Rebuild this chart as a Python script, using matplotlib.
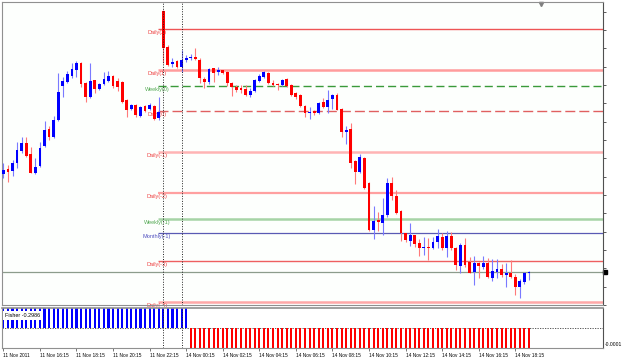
import matplotlib
matplotlib.use('Agg')
import matplotlib.pyplot as plt
import numpy as np

# 15 min candles, 11 Nov 2011 14:15 .. 14 Nov 2011 19:00
opens = [1.3628, 1.3633, 1.3631, 1.3639, 1.3651, 1.3659, 1.3648, 1.3629, 1.3636, 1.3656,
         1.3673, 1.3665, 1.3682, 1.3716, 1.3720, 1.3726, 1.3732, 1.3739, 1.3719, 1.3705,
         1.3722, 1.3713, 1.3718, 1.3721, 1.3726, 1.3721, 1.3720, 1.3702, 1.3693, 1.3697,
         1.3686, 1.3696, 1.3693, 1.3696, 1.3684, 1.3791, 1.3755, 1.3738, 1.3741, 1.3735,
         1.3742, 1.3744, 1.3745, 1.3742, 1.3723, 1.3720, 1.3734, 1.3730, 1.3732, 1.3730,
         1.3719, 1.3715, 1.3714, 1.3713, 1.3707, 1.3711, 1.3721, 1.3725, 1.3729, 1.3719,
         1.3718, 1.3717, 1.3723, 1.3717, 1.3709, 1.3707, 1.3696, 1.3689, 1.3691, 1.3689,
         1.3700, 1.3695, 1.3703, 1.3707, 1.3693, 1.3670, 1.3673, 1.3641, 1.3630, 1.3644,
         1.3619, 1.3572, 1.3582, 1.3579, 1.3587, 1.3619, 1.3606, 1.3591, 1.3569, 1.3561,
         1.3567, 1.3559, 1.3554, 1.3555, 1.3554, 1.3560, 1.3565, 1.3554, 1.3566, 1.3554,
         1.3536, 1.3557, 1.3540, 1.3530, 1.3539, 1.3535, 1.3539, 1.3524, 1.3530, 1.3533,
         1.3527, 1.3529, 1.3525, 1.3515, 1.3520, 1.3529]
highs = [1.3639, 1.3637, 1.3642, 1.3660, 1.3665, 1.3665, 1.3655, 1.3644, 1.3660, 1.3681,
         1.3676, 1.3686, 1.3729, 1.3725, 1.3731, 1.3739, 1.3741, 1.3740, 1.3720, 1.3739,
         1.3722, 1.3719, 1.3730, 1.3731, 1.3727, 1.3724, 1.3721, 1.3703, 1.3698, 1.3698,
         1.3696, 1.3697, 1.3699, 1.3697, 1.3705, 1.3792, 1.3757, 1.3744, 1.3742, 1.3752,
         1.3747, 1.3748, 1.3754, 1.3744, 1.3725, 1.3734, 1.3734, 1.3735, 1.3732, 1.3731,
         1.3720, 1.3717, 1.3717, 1.3717, 1.3714, 1.3723, 1.3728, 1.3731, 1.3730, 1.3722,
         1.3719, 1.3723, 1.3724, 1.3718, 1.3710, 1.3708, 1.3697, 1.3695, 1.3692, 1.3700,
         1.3704, 1.3712, 1.3708, 1.3709, 1.3694, 1.3676, 1.3679, 1.3642, 1.3648, 1.3645,
         1.3620, 1.3596, 1.3590, 1.3604, 1.3624, 1.3625, 1.3612, 1.3592, 1.3569, 1.3579,
         1.3567, 1.3563, 1.3565, 1.3564, 1.3565, 1.3573, 1.3569, 1.3571, 1.3570, 1.3555,
         1.3559, 1.3564, 1.3545, 1.3546, 1.3540, 1.3546, 1.3544, 1.3543, 1.3543, 1.3538,
         1.3539, 1.3542, 1.3528, 1.3523, 1.3530, 1.3531]
lows = [1.3624, 1.3620, 1.3626, 1.3634, 1.3649, 1.3645, 1.3629, 1.3628, 1.3635, 1.3655,
        1.3662, 1.3664, 1.3681, 1.3705, 1.3719, 1.3724, 1.3725, 1.3715, 1.3700, 1.3704,
        1.3709, 1.3712, 1.3717, 1.3720, 1.3714, 1.3711, 1.3699, 1.3685, 1.3692, 1.3685,
        1.3685, 1.3690, 1.3692, 1.3682, 1.3682, 1.3739, 1.3736, 1.3735, 1.3734, 1.3730,
        1.3740, 1.3742, 1.3742, 1.3719, 1.3714, 1.3718, 1.3720, 1.3727, 1.3728, 1.3716,
        1.3706, 1.3710, 1.3709, 1.3706, 1.3705, 1.3710, 1.3720, 1.3724, 1.3718, 1.3716,
        1.3712, 1.3716, 1.3715, 1.3706, 1.3703, 1.3695, 1.3685, 1.3683, 1.3687, 1.3688,
        1.3694, 1.3689, 1.3693, 1.3692, 1.3665, 1.3658, 1.3634, 1.3618, 1.3629, 1.3613,
        1.3571, 1.3563, 1.3571, 1.3567, 1.3585, 1.3602, 1.3588, 1.3561, 1.3560, 1.3556,
        1.3555, 1.3546, 1.3547, 1.3542, 1.3553, 1.3554, 1.3552, 1.3545, 1.3552, 1.3532,
        1.3529, 1.3535, 1.3529, 1.3517, 1.3524, 1.3533, 1.3524, 1.3521, 1.3524, 1.3525,
        1.3515, 1.3524, 1.3507, 1.3504, 1.3518, 1.3522]
closes = [1.3632, 1.3630, 1.3639, 1.3652, 1.3659, 1.3646, 1.3629, 1.3635, 1.3654, 1.3672,
          1.3665, 1.3682, 1.3710, 1.3721, 1.3728, 1.3733, 1.3739, 1.3718, 1.3705, 1.3721,
          1.3713, 1.3718, 1.3723, 1.3726, 1.3716, 1.3715, 1.3700, 1.3692, 1.3697, 1.3687,
          1.3695, 1.3691, 1.3697, 1.3683, 1.3690, 1.3754, 1.3737, 1.3740, 1.3735, 1.3742,
          1.3744, 1.3745, 1.3743, 1.3724, 1.3720, 1.3733, 1.3729, 1.3732, 1.3729, 1.3719,
          1.3715, 1.3712, 1.3712, 1.3707, 1.3711, 1.3722, 1.3726, 1.3730, 1.3719, 1.3717,
          1.3717, 1.3722, 1.3716, 1.3707, 1.3705, 1.3696, 1.3689, 1.3690, 1.3689, 1.3699,
          1.3695, 1.3702, 1.3707, 1.3692, 1.3670, 1.3672, 1.3639, 1.3630, 1.3645, 1.3614,
          1.3572, 1.3581, 1.3580, 1.3587, 1.3619, 1.3606, 1.3589, 1.3569, 1.3562, 1.3567,
          1.3558, 1.3554, 1.3555, 1.3554, 1.3560, 1.3566, 1.3554, 1.3566, 1.3554, 1.3537,
          1.3557, 1.3537, 1.3529, 1.3539, 1.3536, 1.3539, 1.3525, 1.3531, 1.3533, 1.3527,
          1.3529, 1.3525, 1.3515, 1.3521, 1.3529, 1.3530]

# pivot levels
level_names = ['Daily(2)', 'Daily(1)', 'Weekly(0)', 'Daily(0)', 'Daily(-1)',
               'Daily(-2)', 'Weekly(-1)', 'Monthly(-1)', 'Daily(-3)', 'Daily(-4)']
level_values = [1.3773, 1.3732, 1.3716, 1.3691, 1.3650,
                1.3609, 1.3583, 1.3569, 1.3541, 1.3500]

# fisher histogram (all bars run past the window range)
fisher_values = [0.35] * 41 + [-0.2986] * 75
fisher_last = -0.2986

tick_bars = [0, 8, 16, 24, 32, 40, 48, 56, 64, 72, 80, 88, 96, 104, 112]
tick_labels = ['11 Nov 2011', '11 Nov 16:15', '11 Nov 18:15', '11 Nov 20:15', '11 Nov 22:15',
               '14 Nov 00:15', '14 Nov 02:15', '14 Nov 04:15', '14 Nov 06:15', '14 Nov 08:15',
               '14 Nov 10:15', '14 Nov 12:15', '14 Nov 14:15', '14 Nov 16:15', '14 Nov 18:15']
separator_bars = [35, 39]

# line styles for the levels
level_styles = {
    'Daily(2)':    ('#ee5555', '-', 1.0, '#ee4444'),
    'Daily(1)':    ('#ff9c9c', '-', 1.8, '#ee4444'),
    'Weekly(0)':   ('#3a9a3a', (0, (5.8, 2.9)), 1.0, '#55aa55'),
    'Daily(0)':    ('#e06060', (0, (7.2, 2.9)), 1.0, '#ee4444'),
    'Daily(-1)':   ('#ffb4b4', '-', 1.8, '#ee4444'),
    'Daily(-2)':   ('#ffa0a0', '-', 1.6, '#ee4444'),
    'Weekly(-1)':  ('#a6d4a6', '-', 1.8, '#55aa55'),
    'Monthly(-1)': ('#5a5ab4', '-', 0.9, '#5050c0'),
    'Daily(-3)':   ('#ee6060', '-', 1.0, '#ee4444'),
    'Daily(-4)':   ('#ffa8a8', '-', 1.8, '#ee4444'),
}

plt.rcParams['font.family'] = ['Liberation Sans', 'DejaVu Sans']

x = np.arange(len(opens))
o = np.array(opens)
h = np.array(highs)
l = np.array(lows)
c = np.array(closes)
up = c >= o

xmin, xmax = -0.3, 131.2

fig = plt.figure(figsize=(6.25, 3.6), dpi=100)
fig.patch.set_facecolor('white')
ax = fig.add_axes([2 / 625, 1 - 305 / 360, 601 / 625, 303 / 360])
ax2 = fig.add_axes([2 / 625, 1 - 348 / 360, 601 / 625, 40 / 360])

# main chart
ax.set_facecolor('#fdfffd')
ax.set_xlim(xmin, xmax)
ax.set_ylim(1.3497, 1.3800)

for name, val in zip(level_names, level_values):
    col, ls, lw, tcol = level_styles[name]
    ax.hlines(val, 33.8, xmax, colors=col, linestyles=ls, linewidth=lw, zorder=1)
    ax.text(33.6, val - 0.0004, name, color=tcol, fontsize=4.0, ha='center', va='center', zorder=2)

ax.axhline(closes[-1], color='#8c9c8c', linewidth=0.9, zorder=1)

# wicks
ax.vlines(x[up], l[up], h[up], colors='#7a7aff', linewidth=0.8, zorder=3)
ax.vlines(x[~up], l[~up], h[~up], colors='#ff7a7a', linewidth=0.8, zorder=3)
# bodies
body = np.maximum(np.abs(c - o), 0.00012)
ax.bar(x[up], body[up], bottom=np.minimum(o, c)[up], width=0.62, color='#0000ff', zorder=4)
ax.bar(x[~up], body[~up], bottom=np.minimum(o, c)[~up], width=0.62, color='#ff0000', zorder=4)

for sb in separator_bars:
    ax.axvline(sb, color='#202020', linestyle=(0, (1, 1.6)), linewidth=0.7, zorder=5)
    ax2.axvline(sb, color='#202020', linestyle=(0, (1, 1.6)), linewidth=0.7, zorder=5)

ax.set_xticks([])
ax.yaxis.tick_right()
ax.set_yticks(np.arange(1.37903, 1.3497, -0.001833))
ax.set_yticklabels([])
ax.tick_params(axis='y', length=2, width=0.6, color='#404040', direction='out')
for s in ['left', 'top', 'bottom']:
    ax.spines[s].set_color('#909090')
ax.spines['right'].set_color('#505050')

# shift marker and price marker
ax.plot([0.897], [0.993], marker='v', color='#808080', markersize=3, transform=ax.transAxes, clip_on=False)
ax.plot([1.004], [closes[-1]], marker='s', color='black', markersize=2.5,
        transform=ax.get_yaxis_transform(), clip_on=False)

# fisher window
ax2.set_facecolor('white')
ax2.set_xlim(xmin, xmax)
ax2.set_ylim(-0.000125, 0.000125)
fv = np.array(fisher_values)
ax2.bar(x[fv > 0], fv[fv > 0], width=0.45, color='#0000ff', zorder=2)
ax2.bar(x[fv < 0], fv[fv < 0], width=0.45, color='#ff0000', zorder=2)
ax2.axhline(0, color='#404040', linestyle=(0, (1.5, 1.5)), linewidth=0.6, zorder=1)
ax2.text(0.005, 0.88, 'Fisher %.4f' % fisher_last, transform=ax2.transAxes, fontsize=3.9,
         va='top', ha='left', zorder=6,
         bbox=dict(facecolor='white', edgecolor='none', pad=1.5))

ax2.yaxis.tick_right()
ax2.set_yticks([-0.0001])
ax2.set_yticklabels(['-0.0001'], fontsize=3.6)
ax2.tick_params(axis='y', length=0, pad=1)
ax2.set_xticks(tick_bars)
ax2.set_xticklabels(tick_labels, fontsize=3.4, ha='left')
ax2.tick_params(axis='x', length=2, width=0.5, pad=1.5, color='#404040')
for s in ['left', 'top', 'bottom']:
    ax2.spines[s].set_color('#909090')
ax2.spines['right'].set_color('#505050')
ax2.spines['top'].set_linewidth(1.2)

fig.savefig('out.png', dpi=100)
